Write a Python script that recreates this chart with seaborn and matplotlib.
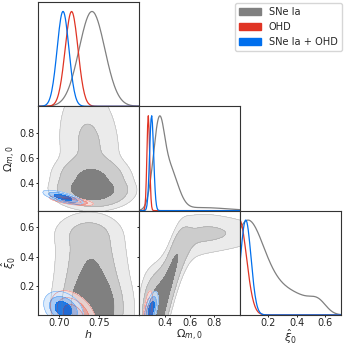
import numpy as np
import matplotlib
matplotlib.use("Agg")
import matplotlib.pyplot as plt
from matplotlib.patches import Patch
import seaborn as sns

# ---------------- data ----------------
param_labels = [r"$h$", r"$\Omega_{m,0}$", r"$\hat{\xi}_0$"]
param_ranges = [(0.673, 0.800), (0.186, 1.008), (0.0, 0.715)]
param_ticks = [[0.70, 0.75], [0.4, 0.6, 0.8], [0.2, 0.4, 0.6]]
tick_labels = [["0.70", "0.75"], ["0.4", "0.6", "0.8"], ["0.2", "0.4", "0.6"]]

series_names = ["SNe Ia", "OHD", "SNe Ia + OHD"]
series_colors = ["#808080", "#E03424", "#006FED"]

# Gaussian posteriors: mean, sigma, correlations (h-Om, h-xi, Om-xi)
ohd_mean = [0.7185, 0.258, -0.005]
ohd_sigma = [0.0085, 0.012, 0.050]
ohd_corr = [-0.70, -0.40, 0.50]
joint_mean = [0.7055, 0.288, 0.040]
joint_sigma = [0.0075, 0.017, 0.037]
joint_corr = [-0.72, -0.30, 0.55]

# SNe Ia posterior (non-Gaussian, banana in Om-xi)
sne_om_peaks = [0.33, 0.43, 0.70]
sne_om_widths = [0.045, 0.07, 0.20]
sne_om_weights = [1.0, 0.35, 0.025]
sne_xi_ridge = [0.62, 0.44, 0.06, 0.06]    # logistic: A, Om_c, tau, offset
sne_xi_width = [0.045, 0.06, 0.30, 0.30]   # t0, t1, Om_ref, tau_t
sne_h_centre = [0.742, -0.012]
sne_h_width = 0.016

contour_mass = [0.68, 0.95, 0.997]
pale_factor = 0.6

# ---------------- grids & densities ----------------
n = 150
grids = [np.linspace(lo, hi, n) for lo, hi in param_ranges]
H = grids[0][:, None, None]
O = grids[1][None, :, None]
X = grids[2][None, None, :]


def sne_density():
    pO = sum(w * np.exp(-(O - m) ** 2 / (2 * s ** 2))
             for m, s, w in zip(sne_om_peaks, sne_om_widths, sne_om_weights))
    A, oc, tau, off = sne_xi_ridge
    g = A / (1 + np.exp(-(O - oc) / tau)) - off
    t0, t1, oref, taut = sne_xi_width
    t = t0 + t1 * np.exp(-(O - oref) / taut)
    px = np.exp(-(X - g) ** 2 / (2 * t ** 2)) / t
    mh = sne_h_centre[0] + sne_h_centre[1] * (O - 0.35)
    pH = np.exp(-(H - mh) ** 2 / (2 * sne_h_width ** 2))
    return pO * px * pH


def gauss_density(mean, sigma, corr):
    R = np.array([[1, corr[0], corr[1]], [corr[0], 1, corr[2]], [corr[1], corr[2], 1]])
    D = np.diag(sigma)
    Ci = np.linalg.inv(D @ R @ D)
    d = [H - mean[0], O - mean[1], X - mean[2]]
    q = sum(Ci[i, j] * d[i] * d[j] for i in range(3) for j in range(3))
    return np.exp(-0.5 * q)


dens = [sne_density(), gauss_density(ohd_mean, ohd_sigma, ohd_corr),
        gauss_density(joint_mean, joint_sigma, joint_corr)]


def mass_levels(Z):
    z = np.sort(Z.ravel())[::-1]
    c = np.cumsum(z)
    c /= c[-1]
    return [z[min(np.searchsorted(c, m), len(z) - 1)] for m in contour_mass]


def shades(col):
    base = np.array(matplotlib.colors.to_rgb(col))
    cols = [base]
    for _ in range(len(contour_mass) - 1):
        cols.insert(0, cols[0] * (1 - pale_factor) + pale_factor)
    return cols  # light -> dark

# ---------------- figure ----------------
sns.set_style("ticks")
plt.rcParams["font.family"] = ["DejaVu Sans"]
plt.rcParams["mathtext.fontset"] = "dejavusans"

W = 345.0
fig = plt.figure(figsize=(3.45, 3.45), dpi=100)
x0, cw = 37.5, 101.3
y0, rh = 2.0, 104.3
fs_tick, fs_lab = 7.0, 8.0

axes = {}
for i in range(3):
    for j in range(i + 1):
        rect = [(x0 + j * cw) / W, 1 - (y0 + (i + 1) * rh) / W, cw / W, rh / W]
        ax = fig.add_axes(rect)
        axes[(i, j)] = ax

for k, (P, col) in enumerate(zip(dens, series_colors)):
    alpha = 1.0 if k == 0 else 0.85
    cols = shades(col)
    for i in range(3):
        for j in range(i + 1):
            ax = axes[(i, j)]
            if i == j:
                others = tuple(a for a in range(3) if a != i)
                m1 = P.sum(axis=others)
                m1 = m1 / m1.max()
                sns.lineplot(x=grids[i], y=m1, ax=ax, color=col, lw=0.9)
            else:
                other = 3 - i - j
                Z = P.sum(axis=other).T
                Z = Z / Z.sum()
                lv = mass_levels(Z)
                levels = [lv[2], lv[1], lv[0], Z.max() * 1.01]
                ax.contourf(grids[j], grids[i], Z, levels=levels, colors=cols, alpha=alpha)
                ax.contour(grids[j], grids[i], Z, levels=levels[:3], colors=[col],
                           linewidths=0.4, alpha=0.5)

for (i, j), ax in axes.items():
    ax.set_xlim(*param_ranges[j])
    ax.set_xticks(param_ticks[j])
    ax.set_xticklabels(tick_labels[j] if i == 2 else [])
    ax.tick_params(labelsize=fs_tick, length=1.6, width=0.7, pad=0.6)
    for sp in ax.spines.values():
        sp.set_linewidth(0.8)
        sp.set_color("#333333")
    ax.set_xlabel("")
    ax.set_ylabel("")
    if i == j:
        ax.set_ylim(0, 1.1)
        ax.set_yticks([])
    else:
        ax.set_ylim(*param_ranges[i])
        ax.set_yticks(param_ticks[i])
        ax.set_yticklabels(tick_labels[i] if j == 0 else [])
        if j == 0:
            ax.set_ylabel(param_labels[i], fontsize=fs_lab)
            ax.yaxis.set_label_coords(-0.19, 0.5)
    if i == 2:
        ax.set_xlabel(param_labels[j], fontsize=fs_lab)
        ax.xaxis.set_label_coords(0.5, -0.125)

handles = [Patch(facecolor=c, edgecolor=c) for c in series_colors]
fig.legend(handles, series_names, loc="upper right",
           bbox_to_anchor=(341.7 / W, 1 - 3.3 / W), fontsize=7.1,
           handlelength=2.2, borderaxespad=0, frameon=True)

fig.savefig("out.png", dpi=100)
